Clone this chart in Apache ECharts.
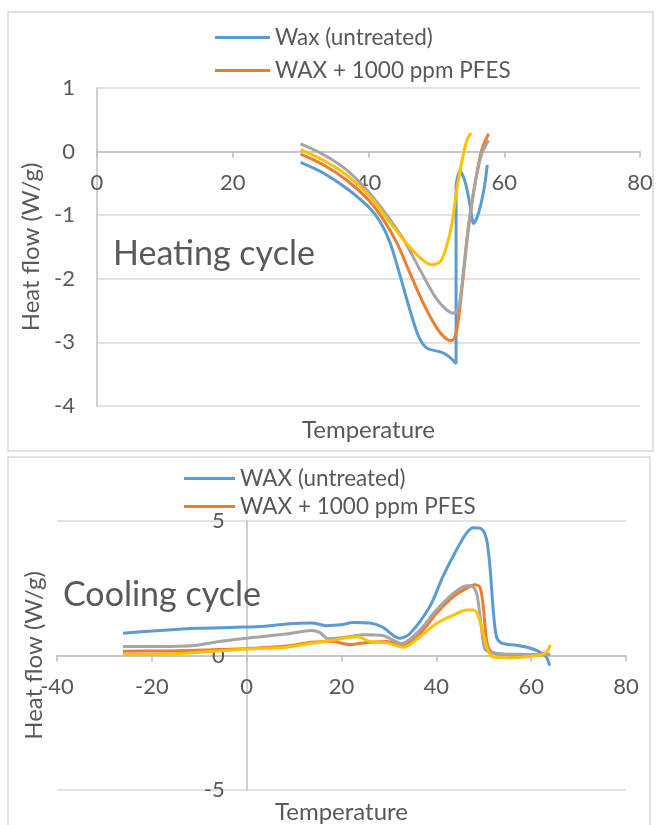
<!DOCTYPE html>
<html>
<head>
<meta charset="utf-8">
<script src="https://cdn.jsdelivr.net/npm/echarts@6/dist/echarts.min.js"></script>
<style>
  html, body { margin: 0; padding: 0; background: #fff; }
  #chart { width: 659px; height: 825px; }
</style>
</head>
<body>
<div id="chart"></div>
<script>
// heating cycle: [temperature, heat flow]
const heatWax = [[30.0,-0.17],[33.4,-0.34],[36.8,-0.58],[40.0,-0.87],[41.7,-1.10],[43.2,-1.44],[44.7,-1.97],[46.1,-2.49],[47.4,-2.91],[48.6,-3.09],[50.6,-3.15],[51.8,-3.22],[52.9,-3.33],[52.9,-0.55],[53.5,-0.31],[54.3,-0.50],[55.0,-0.87],[55.5,-1.13],[56.2,-0.97],[57.0,-0.60],[57.5,-0.21]];
const heatPfes = [[30.0,-0.04],[33.4,-0.21],[36.8,-0.45],[40.0,-0.76],[42.2,-1.07],[44.2,-1.44],[46.1,-1.91],[48.1,-2.39],[50.1,-2.78],[51.5,-2.95],[52.3,-2.97],[53.0,-2.81],[53.8,-2.12],[54.7,-1.23],[55.7,-0.50],[56.7,0.03],[57.7,0.28]];
const heatS3 = [[30.0,0.12],[33.4,-0.05],[36.8,-0.29],[40.0,-0.63],[42.7,-1.00],[45.2,-1.39],[47.6,-1.86],[49.8,-2.28],[51.5,-2.49],[52.5,-2.54],[53.3,-2.44],[54.0,-1.86],[54.7,-1.18],[55.7,-0.50],[56.7,-0.03],[57.7,0.18]];
const heatS4 = [[30.0,0.03],[33.4,-0.14],[36.8,-0.37],[40.0,-0.68],[42.7,-1.05],[45.2,-1.39],[47.4,-1.65],[49.3,-1.78],[50.6,-1.73],[51.5,-1.49],[52.3,-1.13],[53.0,-0.60],[53.8,-0.13],[54.5,0.18],[55.1,0.29]];

// cooling cycle
const coolWax = [[-26.1,0.83],[-18.2,0.93],[-10.2,1.01],[-2.2,1.05],[3.9,1.09],[8.4,1.17],[13.7,1.21],[16.8,1.11],[19.9,1.14],[22.5,1.23],[26.0,1.21],[28.7,1.05],[32.2,0.64],[34.4,0.81],[38.6,1.81],[41.4,2.94],[44.3,3.94],[46.4,4.56],[47.8,4.75],[49.5,4.71],[50.6,4.31],[51.3,3.31],[52.0,1.69],[52.7,0.69],[53.8,0.46],[56.9,0.38],[59.7,0.28],[61.8,0.13],[63.2,-0.06],[63.9,-0.38]];
const coolPfes = [[-26.1,0.16],[-16.4,0.17],[-7.6,0.21],[1.3,0.27],[8.4,0.35],[13.7,0.49],[18.1,0.52],[21.6,0.41],[26.0,0.49],[29.6,0.52],[32.7,0.37],[36.5,0.81],[40.0,1.56],[43.6,2.19],[46.4,2.50],[48.1,2.63],[49.2,2.54],[49.9,1.81],[50.6,0.56],[51.6,0.13],[54.1,0.04],[59.7,0.00],[63.2,0.04],[64.0,0.06]];
const coolS3 = [[-26.1,0.33],[-18.2,0.33],[-11.1,0.37],[-5.8,0.52],[1.3,0.67],[8.4,0.80],[13.7,0.93],[15.4,0.86],[17.2,0.62],[20.7,0.68],[25.2,0.77],[28.7,0.74],[32.7,0.45],[36.5,0.94],[40.0,1.69],[43.6,2.31],[46.4,2.59],[47.4,2.59],[48.5,2.31],[49.5,1.06],[50.2,0.25],[51.3,0.13],[54.1,0.06],[59.7,0.04],[64.0,0.03]];
const coolS4 = [[-26.1,0.04],[-16.4,0.06],[-7.6,0.15],[1.3,0.25],[8.4,0.31],[13.7,0.46],[18.1,0.56],[21.6,0.68],[23.4,0.70],[26.0,0.52],[29.6,0.47],[33.1,0.31],[36.5,0.69],[40.0,1.19],[43.6,1.50],[46.4,1.69],[47.8,1.69],[48.8,1.50],[49.9,0.81],[50.9,0.19],[52.0,-0.06],[55.5,-0.09],[59.7,-0.04],[62.5,0.06],[63.6,0.21],[64.0,0.40]];

const heatLegend = ['Wax (untreated)', 'WAX + 1000 ppm PFES'];
const coolLegend = ['WAX (untreated)', 'WAX + 1000 ppm PFES'];

const colors = ['#5B9BD5', '#ED7D31', '#A5A5A5', '#FFC000'];
const font = 'Lato';
const textColor = '#595959';
const gridColor = '#D9D9D9';

// grid boxes (px)
const g1 = { left: 97, top: 88, width: 543, height: 318 };
const g2 = { left: 57, top: 521, width: 569, height: 269 };
// shift axes onto the zero lines (axis labels follow the line this way)
const heatXOffset = -(g1.height * 4 / 5);          // y = 0 inside [-4, 1]
const coolXOffset = -(g2.height / 2);              // y = 0 inside [-5, 5]
const coolYOffset = -(g2.width * 40 / 120);        // x = 0 inside [-40, 80]

const myChart = echarts.init(document.getElementById('chart'));

const mkSeries = (name, data, idx, color) => ({
  name: name,
  type: 'line',
  xAxisIndex: idx,
  yAxisIndex: idx,
  data: data,
  smooth: 0.3,
  showSymbol: false,
  lineStyle: { width: 3, color: color },
  itemStyle: { color: color }
});

const xAxisBase = {
  type: 'value',
  axisLine: { onZero: false, lineStyle: { color: '#BFBFBF', width: 1.5 } },
  axisTick: { show: true, length: 6, lineStyle: { color: '#BFBFBF', width: 1.5 } },
  splitLine: { show: false },
  axisLabel: { fontSize: 22, color: textColor, fontFamily: font, margin: 20 },
  nameLocation: 'middle',
  nameTextStyle: { fontSize: 24, color: textColor, fontFamily: font }
};
const yAxisBase = {
  type: 'value',
  axisLine: { show: true, onZero: false, lineStyle: { color: '#BFBFBF', width: 1.5 } },
  axisTick: { show: false },
  splitLine: { show: true, lineStyle: { color: gridColor, width: 1.5 } },
  axisLabel: { fontSize: 22, color: textColor, fontFamily: font, margin: 22 },
  nameLocation: 'middle',
  nameTextStyle: { fontSize: 24, color: textColor, fontFamily: font }
};

const option = {
  animation: false,
  backgroundColor: '#fff',
  graphic: [
    { type: 'rect', shape: { x: 8, y: 12, width: 645, height: 439 }, style: { fill: 'none', stroke: gridColor, lineWidth: 1.5 }, silent: true },
    { type: 'rect', shape: { x: 8, y: 457, width: 642, height: 380 }, style: { fill: 'none', stroke: gridColor, lineWidth: 1.5 }, silent: true }
  ],
  title: [
    { text: 'Heating cycle', left: 113, top: 237, padding: 0, textStyle: { fontSize: 34, fontWeight: 'normal', color: textColor, fontFamily: font } },
    { text: 'Cooling cycle', left: 63, top: 578, padding: 0, textStyle: { fontSize: 34, fontWeight: 'normal', color: textColor, fontFamily: font } }
  ],
  legend: [
    {
      data: heatLegend, orient: 'vertical', left: 215, top: 26, padding: 0,
      icon: 'rect', itemWidth: 55, itemHeight: 3, itemGap: 10,
      textStyle: { fontSize: 22.5, lineHeight: 22, color: textColor, fontFamily: font }
    },
    {
      data: coolLegend, orient: 'vertical', left: 184, top: 467, padding: 0,
      icon: 'rect', itemWidth: 51, itemHeight: 3, itemGap: 5,
      textStyle: { fontSize: 22.5, lineHeight: 22, color: textColor, fontFamily: font }
    }
  ],
  grid: [
    Object.assign({ containLabel: false, outerBoundsMode: 'none' }, g1),
    Object.assign({ containLabel: false, outerBoundsMode: 'none' }, g2)
  ],
  xAxis: [
    Object.assign({}, xAxisBase, { gridIndex: 0, min: 0, max: 80, interval: 20, offset: heatXOffset, name: 'Temperature', nameGap: 267 }),
    Object.assign({}, xAxisBase, { gridIndex: 1, min: -40, max: 80, interval: 20, offset: coolXOffset, name: 'Temperature', nameGap: 145 })
  ],
  yAxis: [
    Object.assign({}, yAxisBase, { gridIndex: 0, min: -4, max: 1, interval: 1, name: 'Heat flow (W/g)', nameGap: 51 }),
    Object.assign({}, yAxisBase, { gridIndex: 1, min: -5, max: 5, interval: 5, offset: coolYOffset, name: 'Heat flow (W/g)', nameGap: 200 })
  ],
  series: [
    mkSeries('Wax (untreated)', heatWax, 0, colors[0]),
    mkSeries('WAX + 1000 ppm PFES', heatPfes, 0, colors[1]),
    mkSeries('Series 3', heatS3, 0, colors[2]),
    mkSeries('Series 4', heatS4, 0, colors[3]),
    mkSeries('WAX (untreated)', coolWax, 1, colors[0]),
    mkSeries('WAX + 1000 ppm PFES', coolPfes, 1, colors[1]),
    mkSeries('Series 3', coolS3, 1, colors[2]),
    mkSeries('Series 4', coolS4, 1, colors[3])
  ]
};

myChart.setOption(option);
</script>
</body>
</html>
